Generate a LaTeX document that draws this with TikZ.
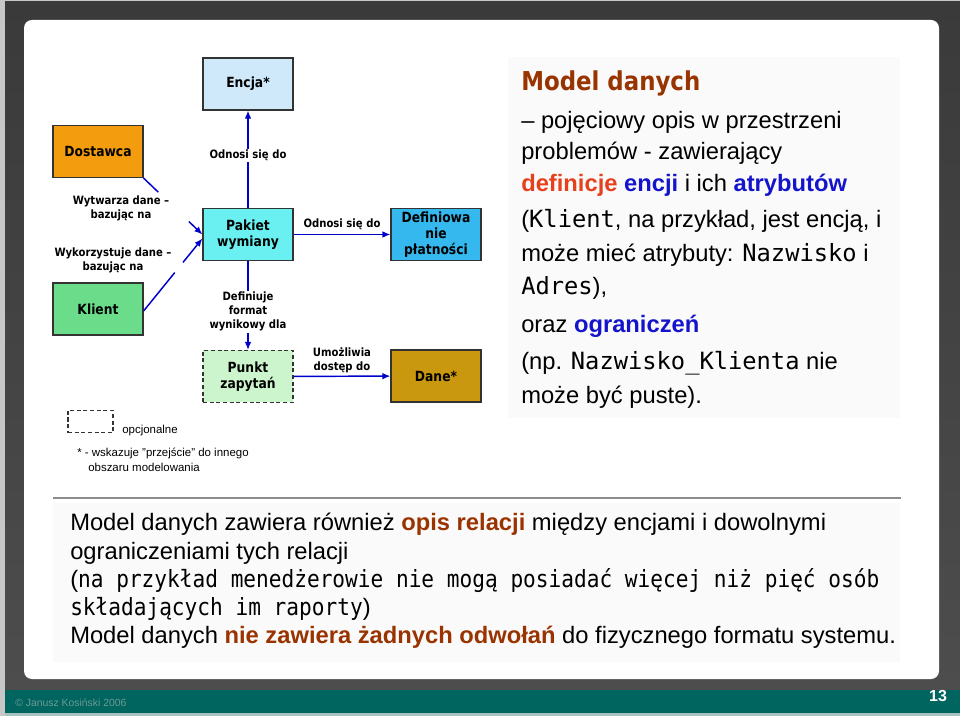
\documentclass[tikz,border=0pt]{standalone}
\usepackage{fontspec}
\setmainfont{Liberation Sans}
\newfontfamily\lab[FakeStretch=0.88]{DejaVu Sans}
\newfontfamily\mono{DejaVu Sans Mono}
\newfontfamily\monon[FakeStretch=0.89]{DejaVu Sans Mono}
\usetikzlibrary{arrows.meta,calc}
\definecolor{frameA}{HTML}{3A3A3A}
\definecolor{frameB}{HTML}{4D4D4D}
\definecolor{tealbar}{HTML}{00655F}
\definecolor{footc}{HTML}{6E9996}
\definecolor{encjaC}{HTML}{CFE8FA}
\definecolor{dostC}{HTML}{F39C0E}
\definecolor{pakC}{HTML}{6AF0F0}
\definecolor{defC}{HTML}{35B8EE}
\definecolor{klC}{HTML}{6BDC8A}
\definecolor{punC}{HTML}{CDF5CD}
\definecolor{daneC}{HTML}{C9980E}
\definecolor{arrC}{HTML}{0000CC}
\definecolor{brownC}{HTML}{993300}
\definecolor{redC}{HTML}{E6401C}
\definecolor{blueC}{HTML}{1414CC}
\newcommand{\bigtxt}{\fontsize{17.8pt}{21pt}\selectfont}
\begin{document}
\begin{tikzpicture}[x=0.75pt,y=-0.75pt,
  box/.style={draw=black!80, line width=0.9pt, minimum width=67.5pt, minimum height=39pt,
    font=\lab\bfseries\fontsize{10.5pt}{11.8pt}\selectfont, align=center, inner sep=1pt},
  lbl/.style={font=\lab\bfseries\fontsize{8.6pt}{10.6pt}\selectfont, align=center, fill=white, inner sep=1pt},
  lbln/.style={font=\lab\bfseries\fontsize{8.6pt}{10.6pt}\selectfont, align=center, inner sep=1pt},
  conn/.style={draw=arrC, line width=1.1pt},
  arr/.style={conn, -{Latex[length=6pt,width=5pt]}},
  txt/.style={anchor=mid west, inner sep=0pt, font=\bigtxt},
  small/.style={anchor=west, inner sep=0pt, font=\fontsize{8.6pt}{10.5pt}\selectfont}]
% frame
\fill[black!22] (0,0) rectangle (960,716);
\shade[top color=frameA, bottom color=frameB] (5,2) rectangle (960,690);
\fill[tealbar] (5,690) rectangle (960,713);
\fill[footc!60] (5,713) rectangle (960,716);
\fill[white, rounded corners=6pt] (24,20) rectangle (939,679);
\node[anchor=west, inner sep=0pt, font=\fontsize{7.8pt}{9pt}\selectfont, text=footc] (foot) at (15,703) {© Janusz Kosiński 2006};
\node[inner sep=0pt, font=\bfseries\fontsize{12pt}{14pt}\selectfont, text=white] (pg) at (938,696) {13};
% faint panels
\fill[black!2] (508,57) rectangle (900,418);
\fill[black!2] (53,503) rectangle (900,662);
% diagram boxes
\node[box, fill=encjaC] (enc) at (248,84) {Encja*};
\node[box, fill=dostC] (dos) at (98,151.5) {Dostawca};
\node[box, fill=pakC] (pak) at (248,234.5) {Pakiet\\wymiany};
\node[box, fill=defC] (def) at (436,234.5) {Definiowa\\nie\\płatności};
\node[box, fill=klC] (kli) at (98,309) {Klient};
\node[box, fill=punC, dash pattern=on 3pt off 2pt] (pun) at (248,376.5) {Punkt\\zapytań};
\node[box, fill=daneC] (dan) at (436,376) {Dane*};
% connectors
\draw[arr] (pak) -- node[lbl, pos=0.54] {Odnosi się do} (enc);
\draw[arr] (pak) -- node[lbl, pos=0.57] {Definiuje\\format\\wynikowy dla} (pun);
\draw[arr] (pak) -- node[lbln, above=2pt, midway] {Odnosi się do} (def);
\draw[arr] (pun) -- node[lbln, above=1pt, midway] {Umożliwia\\dostęp do} (dan);
\draw[conn] (dos.south east) -- ($(dos.south east)!0.25!(pak.west)$);
\draw[arr] ($(dos.south east)!0.77!(pak.west)$) -- (pak.west);
\coordinate (kst) at ([yshift=-1.5pt]kli.east);
\coordinate (ken) at ([yshift=-3pt]pak.west);
\draw[conn] (kst) -- ($(kst)!0.53!(ken)$);
\draw[arr] ($(kst)!0.67!(ken)$) -- (ken);
\node[lbln] (l1) at (121,208) {Wytwarza dane –\\bazując na};
\node[lbln] (l2) at (113,260) {Wykorzystuje dane –\\bazując na};
% legend
\node[draw=black!80, line width=0.9pt, dash pattern=on 3pt off 2pt, minimum width=33.75pt, minimum height=17pt, inner sep=0pt] (leg) at (90.5,421.5) {};
\node[small] (opc) at (122,431) {opcjonalne};
\node[small] (fn1) at (77,453) {* - wskazuje "przejście" do innego};
\node[small] (fn2) at (88,467) {obszaru modelowania};
% right text
\node[anchor=mid west, inner sep=0pt, text=brownC, font=\lab\bfseries\fontsize{19.5pt}{22pt}\selectfont] (title) at (521,87) {Model danych};
\node[txt] (r1) at (521,125) {– pojęciowy opis w przestrzeni};
\node[txt] (r2) at (521,156) {problemów - zawierający};
\node[txt] (r3) at (521,188) {\textcolor{redC}{\bfseries definicje} \textcolor{blueC}{\bfseries encji} i ich \textcolor{blueC}{\bfseries atrybutów}};
\node[txt] (r4) at (521,224) {({\mono Klient}, na przykład, jest encją, i};
\node[txt] (r5) at (521,258) {może mieć atrybuty: {\mono Nazwisko} i};
\node[txt] (r6) at (521,291) {{\mono Adres}),};
\node[txt] (r7) at (521,329) {oraz \textcolor{blueC}{\bfseries ograniczeń}};
\node[txt] (r8) at (521,366) {(np. {\mono Nazwisko\_Klienta} nie};
\node[txt] (r9) at (521,400) {może być puste).};
% bottom
\draw[line width=2.2pt, black!45] (53,498) -- (901,498);
\node[txt] (b1) at (70,527) {Model danych zawiera również \textcolor{brownC}{\bfseries opis relacji} między encjami i dowolnymi};
\node[txt] (b2) at (70,556) {ograniczeniami tych relacji};
\node[txt] (b3) at (70,584) {({\monon na przykład menedżerowie nie mogą posiadać więcej niż pięć osób}};
\node[txt] (b4) at (70,612) {{\monon składających im raporty})};
\node[txt] (b5) at (70,640) {Model danych \textcolor{brownC}{\bfseries nie zawiera żadnych odwołań} do fizycznego formatu systemu.};
\end{tikzpicture}
\end{document}
